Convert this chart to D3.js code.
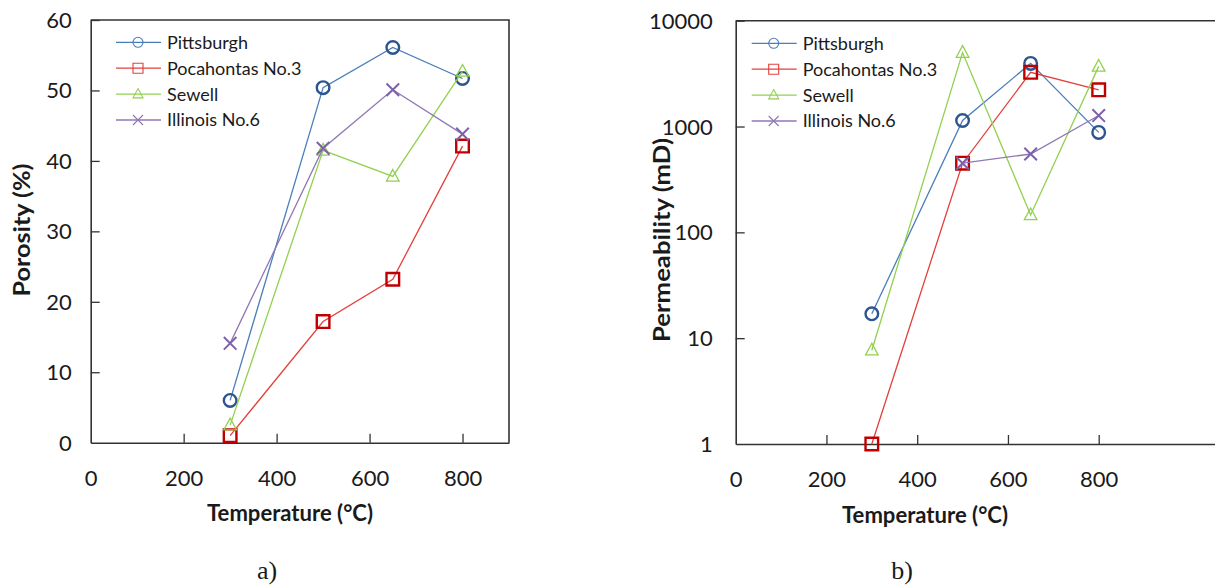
<!DOCTYPE html>
<html>
<head>
<meta charset="utf-8">
<script src="https://cdn.jsdelivr.net/npm/d3@7"></script>
<style>
  html, body { margin: 0; padding: 0; background: #fff; }
  svg { display: block; }
  text { font-family: Lato, "Open Sans", sans-serif; fill: #1a1a1a; }
</style>
</head>
<body>
<svg id="chart" width="1215" height="585"></svg>
<script>
// Temperatures (°C) at which the coal samples were treated
const temperatures = [300, 500, 650, 800];

// Series names
const seriesNames = ["Pittsburgh", "Pocahontas No.3", "Sewell", "Illinois No.6"];

// Porosity (%) per series
const porosityPittsburgh = [6.0, 50.4, 56.1, 51.7];
const porosityPocahontas = [1.0, 17.2, 23.2, 42.1];
const porositySewell     = [2.5, 41.5, 37.8, 52.7];
const porosityIllinois   = [14.1, 41.8, 50.1, 43.8];

// Permeability (mD) per series
const permPittsburgh = [17, 1140, 3950, 880];
const permPocahontas = [1, 450, 3250, 2220];
const permSewell     = [7.7, 5000, 146, 3700];
const permIllinois   = [null, 450, 550, 1270];

// Tick labels
const xTicks = [0, 200, 400, 600, 800];
const porosityTicks = [0, 10, 20, 30, 40, 50, 60];
const permTicks = [1, 10, 100, 1000, 10000];

const styles = [
  { line: "#4a7ebb", marker: "#2c5590", legend: "#4a7ebb", shape: "circle", mw: 2.4 },
  { line: "#e3403a", marker: "#c00000", legend: "#e3403a", shape: "square", mw: 2.4 },
  { line: "#92d050", marker: "#92d050", legend: "#92d050", shape: "triangle", mw: 1.3 },
  { line: "#8f78b5", marker: "#7d62a8", legend: "#8f78b5", shape: "cross", mw: 2.0 }
];

const svg = d3.select("#chart");

function markerPath(shape, s) {
  if (shape === "square") return `M${-s},${-s}H${s}V${s}H${-s}Z`;
  if (shape === "triangle") return `M0,${-s*1.1}L${s},${s*0.75}L${-s},${s*0.75}Z`;
  return `M${-s},${-s}L${s},${s}M${-s},${s}L${s},${-s}`;
}

function drawMarker(g, shape, x, y, s, color, w) {
  if (shape === "circle") {
    g.append("circle").attr("cx", x).attr("cy", y).attr("r", s)
      .attr("fill", "none").attr("stroke", color).attr("stroke-width", w);
  } else {
    g.append("path").attr("d", markerPath(shape, s))
      .attr("transform", `translate(${x},${y})`)
      .attr("fill", "none").attr("stroke", color).attr("stroke-width", w);
  }
}

function panel(opts) {
  const g = svg.append("g");
  const x = d3.scaleLinear().domain(opts.xDomain).range([opts.left, opts.right]);
  const y = opts.y;

  // frame: top and right borders
  g.append("path")
    .attr("d", `M${opts.left},${y.range()[1]}H${opts.right}V${y.range()[0]}`)
    .attr("fill", "none").attr("stroke", "#333").attr("stroke-width", 1.6);

  // x axis with inward ticks
  const xAxis = d3.axisBottom(x).tickValues(xTicks).tickSizeInner(0).tickSizeOuter(0).tickPadding(0);
  const xg = g.append("g").attr("transform", `translate(0,${y.range()[0]})`).call(xAxis);
  xg.select(".domain").attr("stroke", "#333").attr("stroke-width", 1.6);
  xg.selectAll(".tick").filter(d => d !== 0).append("line")
    .attr("y1", 0).attr("y2", -9).attr("stroke", "#333").attr("stroke-width", 1.3);
  xg.selectAll(".tick text").attr("y", 36).attr("dy", "0.32em")
    .style("font-size", "22px").style("font-family", "Lato, sans-serif").attr("fill", "#1a1a1a");

  // y axis with inward ticks
  const yAxis = d3.axisLeft(y).tickValues(opts.yTicks).tickSizeInner(0).tickSizeOuter(0)
    .tickFormat(d3.format("d"));
  const yg = g.append("g").attr("transform", `translate(${opts.left},0)`).call(yAxis);
  yg.select(".domain").attr("stroke", "#333").attr("stroke-width", 1.6);
  yg.selectAll(".tick").filter(d => d !== opts.yTicks[0]).append("line")
    .attr("x1", 0).attr("x2", 9).attr("stroke", "#333").attr("stroke-width", 1.3);
  yg.selectAll(".tick text").attr("x", -opts.labelGap).attr("dy", "0.34em")
    .style("font-size", "22px").style("font-family", "Lato, sans-serif").attr("fill", "#1a1a1a");

  // axis titles
  g.append("text").attr("x", opts.xTitleX).attr("y", opts.xTitleY).attr("dy", "0.35em")
    .attr("text-anchor", "middle").style("font-weight", "bold").style("font-size", "22px")
    .attr("textLength", 166).attr("lengthAdjust", "spacingAndGlyphs")
    .text("Temperature (°C)");
  g.append("text").attr("transform", `translate(${opts.yTitleX},${opts.yTitleY}) rotate(-90)`)
    .attr("dy", "0.35em").attr("text-anchor", "middle").style("font-weight", "bold").style("font-size", "22px")
    .attr("textLength", opts.yTitleLen).attr("lengthAdjust", "spacingAndGlyphs")
    .text(opts.yTitle);

  // series lines and markers
  opts.series.forEach((vals, i) => {
    const st = styles[i];
    const pts = temperatures.map((t, j) => ({ t, v: vals[j] }));
    const line = d3.line().defined(d => d.v != null).x(d => x(d.t)).y(d => y(d.v));
    g.append("path").attr("d", line(pts)).attr("fill", "none")
      .attr("stroke", st.line).attr("stroke-width", 1.3);
    const mg = g.append("g");
    pts.filter(d => d.v != null).forEach(d => {
      drawMarker(mg, st.shape, x(d.t), y(d.v), 6.3, st.marker, st.mw);
    });
  });

  // legend
  const lg = g.append("g");
  seriesNames.forEach((name, i) => {
    const st = styles[i];
    const ly = opts.legendY + i * 25.9;
    lg.append("line").attr("x1", opts.legendX).attr("x2", opts.legendX + 45)
      .attr("y1", ly).attr("y2", ly).attr("stroke", st.legend).attr("stroke-width", 1.3);
    drawMarker(lg, st.shape, opts.legendX + 22, ly, 5, st.legend, 1.1);
    lg.append("text").attr("x", opts.legendX + 51).attr("y", ly).attr("dy", "0.36em")
      .style("font-size", "18px").text(name);
  });

  // panel caption
  svg.append("text").attr("x", opts.captionX).attr("y", 570).attr("dy", "0.35em")
    .attr("text-anchor", "middle")
    .style("font-family", "'Liberation Serif', 'DejaVu Serif', serif").style("font-size", "26px")
    .text(opts.caption);
}

// a) porosity
panel({
  left: 90.7, right: 509, xDomain: [0, 900],
  y: d3.scaleLinear().domain([0, 60]).range([442.7, 20]),
  yTicks: porosityTicks, labelGap: 19,
  yTitle: "Porosity (%)", yTitleX: 22, yTitleY: 230, yTitleLen: 133,
  xTitleX: 290, xTitleY: 513,
  series: [porosityPittsburgh, porosityPocahontas, porositySewell, porosityIllinois],
  legendX: 116, legendY: 42.3,
  caption: "a)", captionX: 267
});

// b) permeability (log scale); the plot runs past the right edge of the page
panel({
  left: 735.7, right: 735.7 + 90.75 * 6, xDomain: [0, 1200],
  y: d3.scaleLog().domain([1, 10000]).range([444, 20.7]),
  yTicks: permTicks, labelGap: 23,
  yTitle: "Permeability (mD)", yTitleX: 662, yTitleY: 240, yTitleLen: 204,
  xTitleX: 925, xTitleY: 515,
  series: [permPittsburgh, permPocahontas, permSewell, permIllinois],
  legendX: 751.7, legendY: 43.3,
  caption: "b)", captionX: 902
});
</script>
</body>
</html>
